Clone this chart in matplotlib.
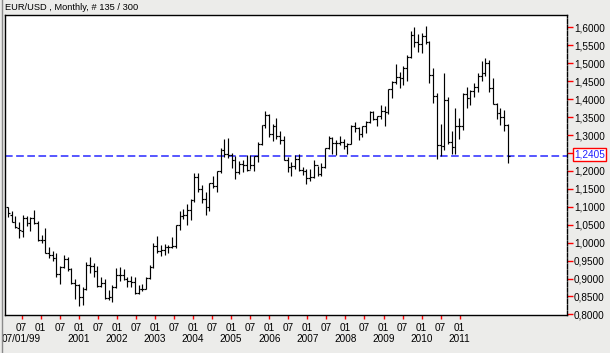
import matplotlib
matplotlib.use("Agg")
import matplotlib.pyplot as plt
import matplotlib.transforms as mtrans
from matplotlib.lines import Line2D

# Monthly EUR/USD bars, Mar 1999 .. May 2010 (135 bars)
opens = [
    1.0985, 1.0780, 1.0580, 1.0420, 1.0330, 1.0680, 1.0560, 1.0680, 1.0560, 1.0080,
    1.0070, 0.9710, 0.9650, 0.9570, 0.9120, 0.9330, 0.9530, 0.9260, 0.8880, 0.8830, 0.8490, 0.8720,
    0.9390, 0.9360, 0.9210, 0.8780, 0.8880, 0.8460, 0.8480, 0.8760, 0.9110, 0.9110, 0.9000, 0.8920,
    0.8900, 0.8600, 0.8700, 0.8720, 0.9010, 0.9330, 0.9910, 0.9780, 0.9800, 0.9870, 0.9880, 0.9920,
    1.0490, 1.0730, 1.0780, 1.0910, 1.1180, 1.1820, 1.1500, 1.1230, 1.0980, 1.1650, 1.1590, 1.1990,
    1.2590, 1.2470, 1.2450, 1.2290, 1.1970, 1.2200, 1.2170, 1.2020, 1.2160, 1.2420, 1.2760, 1.3270,
    1.3560, 1.3030, 1.3260, 1.2960, 1.2870, 1.2290, 1.2100, 1.2130, 1.2330, 1.2020, 1.1990, 1.1790,
    1.1840, 1.2160, 1.1920, 1.2120, 1.2630, 1.2920, 1.2790, 1.2770, 1.2810, 1.2680, 1.2750, 1.3250,
    1.3190, 1.3030, 1.3240, 1.3350, 1.3650, 1.3450, 1.3530, 1.3680, 1.3630, 1.4270, 1.4490, 1.4630,
    1.4590, 1.4860, 1.5180, 1.5790, 1.5600, 1.5550, 1.5750, 1.5600, 1.4670, 1.4080, 1.2730, 1.2700,
    1.3970, 1.2800, 1.2670, 1.3250, 1.3240, 1.4150, 1.4030, 1.4240, 1.4340, 1.4640, 1.4720, 1.5000,
    1.4320, 1.3870, 1.3620, 1.3510, 1.3290,
]
highs = [
    1.1000, 1.0880, 1.0740, 1.0580, 1.0770, 1.0750, 1.0720, 1.0900, 1.0600, 1.0200,
    1.0420, 0.9880, 0.9780, 0.9700, 0.9340, 0.9650, 0.9590, 0.9300, 0.9000, 0.8860, 0.8760, 0.9460,
    0.9600, 0.9430, 0.9350, 0.9050, 0.8980, 0.8690, 0.8810, 0.9290, 0.9320, 0.9270, 0.9050, 0.9070,
    0.9050, 0.8820, 0.8840, 0.9030, 0.9380, 0.9980, 1.0190, 0.9940, 0.9950, 0.9940, 1.0150, 1.0490,
    1.0870, 1.0940, 1.1080, 1.1230, 1.1930, 1.1930, 1.1620, 1.1400, 1.1650, 1.1850, 1.2000, 1.2650,
    1.2900, 1.2930, 1.2500, 1.2410, 1.2280, 1.2300, 1.2440, 1.2440, 1.2420, 1.2800, 1.3290, 1.3670,
    1.3590, 1.3310, 1.3480, 1.3110, 1.2960, 1.2400, 1.2240, 1.2450, 1.2470, 1.2120, 1.2060, 1.2040,
    1.2290, 1.2150, 1.2210, 1.2630, 1.2970, 1.2950, 1.2860, 1.2970, 1.2880, 1.2770, 1.3280, 1.3360,
    1.3220, 1.3260, 1.3400, 1.3680, 1.3660, 1.3540, 1.3850, 1.3810, 1.4280, 1.4510, 1.4970, 1.4770,
    1.4930, 1.5240, 1.5910, 1.6020, 1.5820, 1.5830, 1.6040, 1.5620, 1.4870, 1.4160, 1.3300, 1.4720,
    1.4070, 1.3100, 1.3740, 1.3480, 1.4160, 1.4340, 1.4260, 1.4450, 1.4740, 1.5060, 1.5140, 1.5100,
    1.4580, 1.3880, 1.3740, 1.3690, 1.3310,
]
lows = [
    1.0705, 1.0570, 1.0410, 1.0130, 1.0150, 1.0450, 1.0330, 1.0530, 1.0040, 1.0000,
    0.9710, 0.9560, 0.9500, 0.9040, 0.8850, 0.9300, 0.9210, 0.8850, 0.8440, 0.8230, 0.8260, 0.8670,
    0.9150, 0.9050, 0.8760, 0.8750, 0.8440, 0.8390, 0.8350, 0.8730, 0.8930, 0.8950, 0.8750, 0.8760,
    0.8580, 0.8580, 0.8640, 0.8720, 0.8990, 0.9300, 0.9700, 0.9620, 0.9650, 0.9700, 0.9860, 0.9860,
    1.0350, 1.0650, 1.0500, 1.0620, 1.1140, 1.1400, 1.1100, 1.0770, 1.0890, 1.1520, 1.1400, 1.1950,
    1.2400, 1.2360, 1.2080, 1.1760, 1.1910, 1.1980, 1.2000, 1.2040, 1.2000, 1.2250, 1.2720, 1.3200,
    1.2950, 1.2820, 1.2880, 1.2760, 1.2290, 1.1960, 1.1870, 1.2060, 1.2000, 1.1880, 1.1640, 1.1710,
    1.1800, 1.1860, 1.1850, 1.2070, 1.2620, 1.2480, 1.2450, 1.2710, 1.2620, 1.2480, 1.2740, 1.3070,
    1.2860, 1.2950, 1.3050, 1.3330, 1.3420, 1.3260, 1.3450, 1.3260, 1.3580, 1.4030, 1.4430, 1.4310,
    1.4400, 1.4510, 1.5150, 1.5450, 1.5300, 1.5280, 1.5530, 1.4450, 1.3880, 1.2330, 1.2420, 1.2580,
    1.2760, 1.2460, 1.2460, 1.2880, 1.3140, 1.3750, 1.3850, 1.4050, 1.4200, 1.4500, 1.4650, 1.4210,
    1.3860, 1.3440, 1.3270, 1.3110, 1.2210,
]
closes = [
    1.0815, 1.0575, 1.0430, 1.0340, 1.0680, 1.0560, 1.0680, 1.0560, 1.0080, 1.0070,
    0.9710, 0.9650, 0.9570, 0.9120, 0.9330, 0.9530, 0.9260, 0.8880, 0.8830, 0.8490, 0.8720, 0.9390,
    0.9360, 0.9210, 0.8780, 0.8880, 0.8460, 0.8480, 0.8760, 0.9110, 0.9110, 0.9000, 0.8920, 0.8900,
    0.8600, 0.8700, 0.8720, 0.9010, 0.9330, 0.9910, 0.9780, 0.9800, 0.9870, 0.9880, 0.9920, 1.0490,
    1.0730, 1.0780, 1.0910, 1.1180, 1.1820, 1.1500, 1.1230, 1.0980, 1.1650, 1.1590, 1.1990, 1.2590,
    1.2470, 1.2450, 1.2290, 1.1970, 1.2200, 1.2170, 1.2020, 1.2160, 1.2420, 1.2760, 1.3270, 1.3560,
    1.3030, 1.3260, 1.2960, 1.2870, 1.2290, 1.2100, 1.2130, 1.2330, 1.2020, 1.1990, 1.1790, 1.1840,
    1.2160, 1.1920, 1.2120, 1.2630, 1.2920, 1.2790, 1.2770, 1.2810, 1.2680, 1.2750, 1.3250, 1.3190,
    1.3030, 1.3240, 1.3350, 1.3650, 1.3450, 1.3530, 1.3680, 1.3630, 1.4270, 1.4490, 1.4630, 1.4590,
    1.4860, 1.5180, 1.5790, 1.5600, 1.5550, 1.5750, 1.5600, 1.4670, 1.4080, 1.2730, 1.2700, 1.3970,
    1.2800, 1.2670, 1.3250, 1.3240, 1.4150, 1.4030, 1.4240, 1.4340, 1.4640, 1.4720, 1.5000, 1.4320,
    1.3870, 1.3620, 1.3510, 1.3290, 1.2405,
]
last_price = 1.2405

title_text = "EUR/USD , Monthly, # 135 / 300"
xtick_row1 = ["07", "01"] * 12
xtick_row2 = {0: "07/01/99", 3: "2001", 5: "2002", 7: "2003", 9: "2004", 11: "2005",
              13: "2006", 15: "2007", 17: "2008", 19: "2009", 21: "2010", 23: "2011"}
ytick_vals = [0.80 + 0.05 * k for k in range(17)]

# ---------------------------------------------------------------
W, H = 610, 353
bg = "#ECECEA"
font = ["Liberation Sans", "DejaVu Sans"]
fs = 7.2

fig = plt.figure(figsize=(W / 100, H / 100), dpi=100, facecolor=bg)
ax = fig.add_axes([5 / W, 38 / H, 562 / W, 300 / H])
ax.set_facecolor("white")

n = len(closes)
xs = list(range(n))
lw = 0.85
ax.vlines(xs, lows, highs, colors="black", linewidth=lw)
ax.hlines(opens, [x - 0.5 for x in xs], xs, colors="black", linewidth=lw)
ax.hlines(closes, xs, [x + 0.5 for x in xs], colors="black", linewidth=lw)

ax.axhline(last_price, color="#2828FF", linewidth=1.1, dashes=(5, 2.3), zorder=1)

ax.set_xlim(-0.8, 149.9)
ax.set_ylim(0.7983, 1.6345)

# x ticks
tick_pos = [3.67 + 5.107 * k for k in range(len(xtick_row1))]
ax.set_xticks(tick_pos)
ax.set_xticklabels(xtick_row1, fontsize=fs, family=font)
ax.tick_params(axis="x", colors="red", length=3, width=1, pad=3, labelcolor="black")
trans_x = mtrans.blended_transform_factory(ax.transData, ax.transAxes)
for k, lab in xtick_row2.items():
    ax.text(tick_pos[k], -24 / 300, lab, transform=trans_x, ha="center", va="center",
            fontsize=fs, family=font, color="black", clip_on=False)

# y ticks on right
ax.yaxis.tick_right()
ax.set_yticks(ytick_vals)
ax.set_yticklabels([f"{v:.4f}".replace(".", ",") for v in ytick_vals], fontsize=fs, family=font)
ax.tick_params(axis="y", colors="red", length=4, width=1, pad=1, labelcolor="black")

for s in ["left", "top", "bottom"]:
    ax.spines[s].set_color("black")
    ax.spines[s].set_linewidth(1)
ax.spines["right"].set_color("black")
ax.spines["right"].set_linewidth(1)
ax.spines["right"].set_linestyle((0, (3, 1.2)))

# last price label
trans_y = mtrans.blended_transform_factory(ax.transAxes, ax.transData)
ax.text(1 + 7 / 562, last_price + 0.004, f"{last_price:.4f}".replace(".", ","), transform=trans_y,
        ha="left", va="center", fontsize=fs, family=font, color="#2020FF", zorder=10,
        clip_on=False,
        bbox=dict(boxstyle="square,pad=0.15", facecolor="white", edgecolor="red", linewidth=1))

fig.text(5 / W, 1 - 8 / H, title_text, ha="left", va="center", fontsize=6.7, family=font,
         color="black")
fig.add_artist(Line2D([1.5 / W, 1.5 / W], [0, 1], color="#8A8A8A", linewidth=1,
                      transform=fig.transFigure))

fig.savefig("out.png", dpi=100, facecolor=bg)
